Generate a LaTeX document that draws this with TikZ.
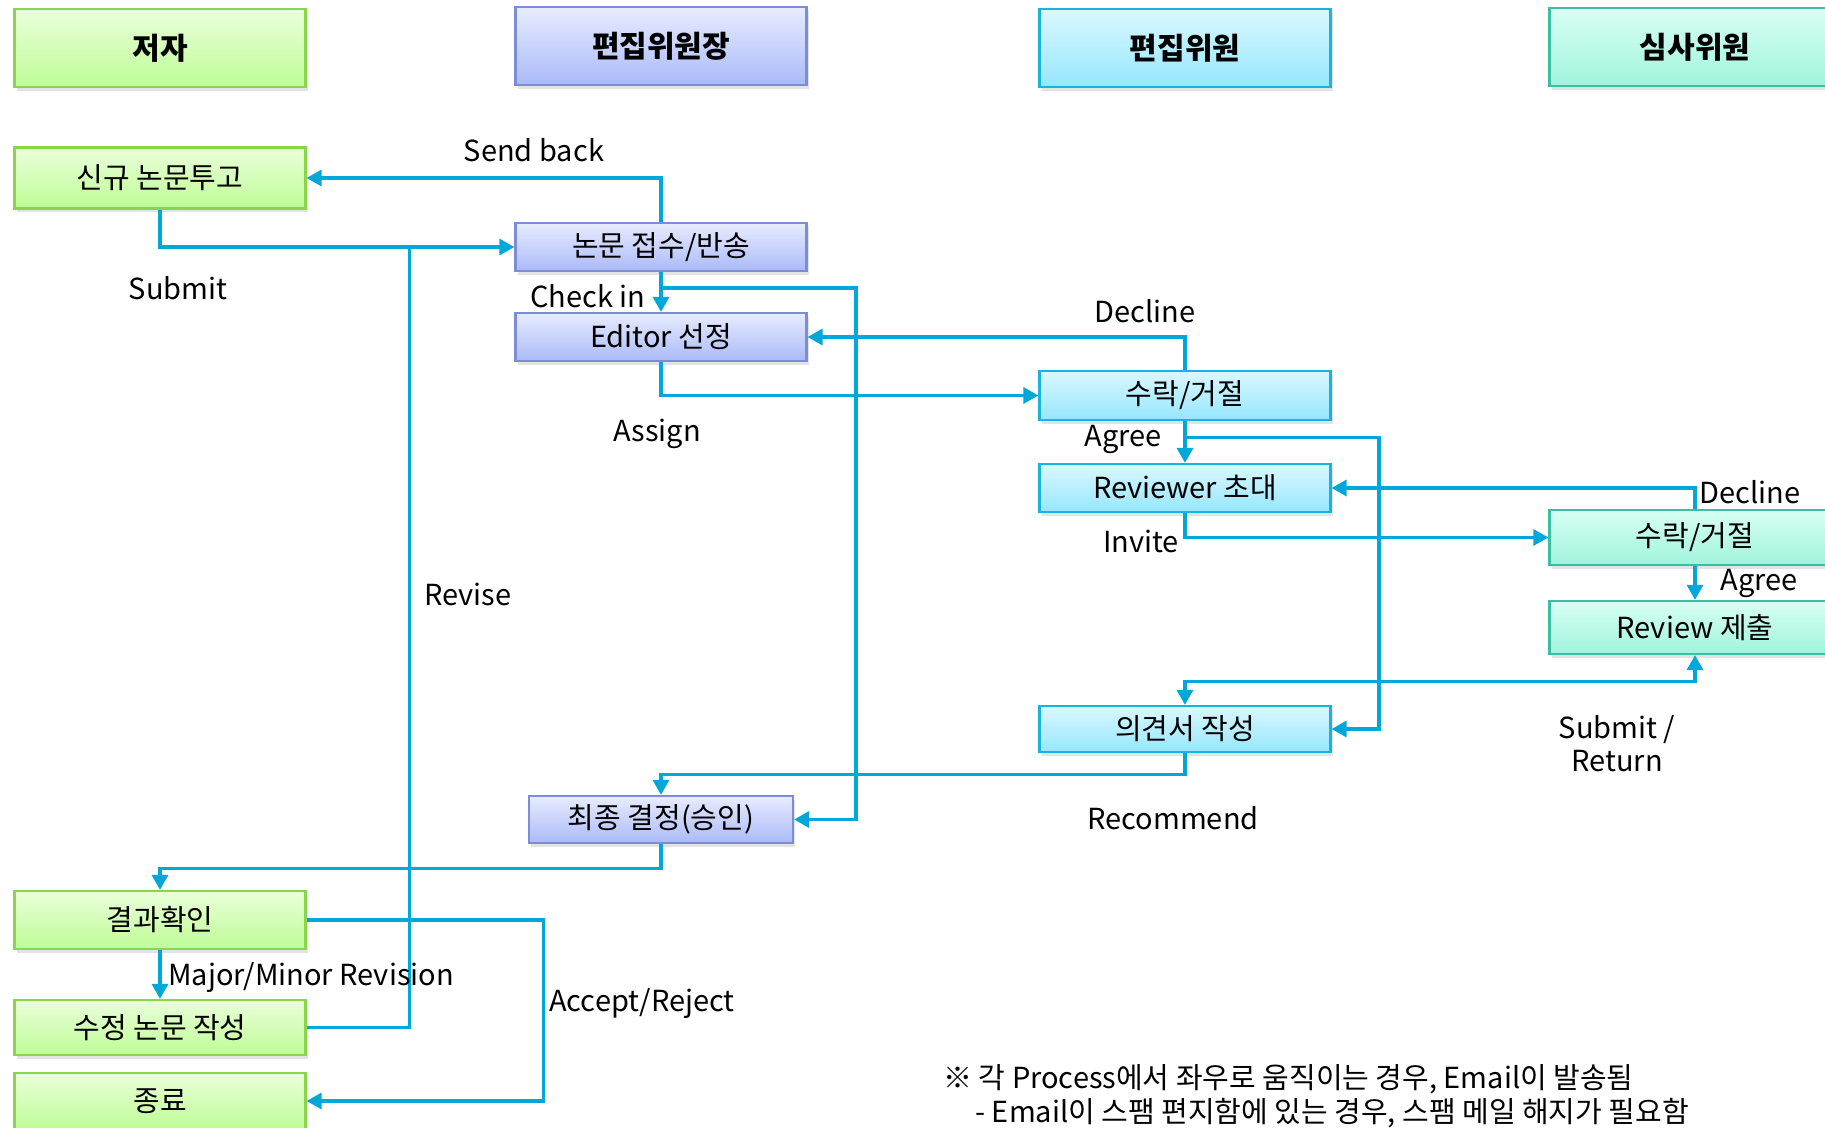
\documentclass[tikz,border=0pt]{standalone}
\usepackage{fontspec}
\setmainfont{Noto Sans CJK KR}
\usetikzlibrary{arrows.meta,shadows}

\definecolor{flowline}{RGB}{0,168,218}
\definecolor{authorline}{RGB}{138,214,74}
\definecolor{authortop}{RGB}{234,255,218}
\definecolor{authorbot}{RGB}{190,252,150}
\definecolor{chiefline}{RGB}{124,140,214}
\definecolor{chieftop}{RGB}{232,236,255}
\definecolor{chiefbot}{RGB}{170,186,248}
\definecolor{editorline}{RGB}{26,178,224}
\definecolor{editortop}{RGB}{218,248,255}
\definecolor{editorbot}{RGB}{150,230,255}
\definecolor{reviewerline}{RGB}{60,190,165}
\definecolor{reviewertop}{RGB}{216,255,244}
\definecolor{reviewerbot}{RGB}{160,244,220}

\tikzset{
  box/.style={draw, line width=1.1pt, minimum width=145.5pt, inner sep=0pt,
    font=\fontsize{14.5}{17}\selectfont,
    drop shadow={opacity=0.22, shadow xshift=1.2pt, shadow yshift=-2pt}},
  head/.style={box, minimum height=39pt, font=\fontsize{15}{18}\selectfont\bfseries},
  author/.style={draw=authorline, top color=authortop, bottom color=authorbot},
  chief/.style={draw=chiefline, top color=chieftop, bottom color=chiefbot},
  editor/.style={draw=editorline, top color=editortop, bottom color=editorbot},
  reviewer/.style={draw=reviewerline, top color=reviewertop, bottom color=reviewerbot},
  wire/.style={draw=flowline, line width=1.6pt},
  link/.style={wire, -{Triangle[length=7.5pt,width=8pt]}},
  both/.style={wire, arrows={Triangle[length=7.5pt,width=8pt]-Triangle[length=7.5pt,width=8pt]}},
  lbl/.style={inner sep=0pt, font=\fontsize{14.5}{16.5}\selectfont}
}

\begin{document}
\begin{tikzpicture}[x=0.5pt,y=-0.5pt]
\useasboundingbox (0,0) rectangle (1825,1128);

\node[head,author] (hauthor) at (160,48) {저자};
\node[head,chief] (hchief) at (661,46) {편집위원장};
\node[head,editor] (heditor) at (1185,48) {편집위원};
\node[head,reviewer] (hreviewer) at (1695,47) {심사위원};

\node[box,author,minimum height=30.5pt] (new) at (160,178) {신규 논문투고};
\node[box,chief,minimum height=24pt] (recv) at (661,247) {논문 접수/반송};
\node[box,chief,minimum height=24pt] (select) at (661,337) {Editor 선정};
\node[box,editor,minimum height=24.5pt] (edecide) at (1185,395.5) {수락/거절};
\node[box,editor,minimum height=24pt] (invite) at (1185,488) {Reviewer 초대};
\node[box,reviewer,minimum height=27.5pt] (rdecide) at (1695,537.5) {수락/거절};
\node[box,reviewer,minimum height=26.5pt] (review) at (1695,627.5) {Review 제출};
\node[box,editor,minimum height=23pt] (opinion) at (1185,729) {의견서 작성};
\node[box,chief,minimum width=132pt,minimum height=23.5pt] (final) at (661,819.5) {최종 결정(승인)};
\node[box,author,minimum height=29pt] (result) at (160,920) {결과확인};
\node[box,author,minimum height=27.5pt] (revise) at (160,1027.5) {수정 논문 작성};
\node[box,author,minimum height=28pt] (close) at (160,1101) {종료};

\draw[link] (new.south) |- (recv.west);
\draw[link] (recv.north) |- (new.east);
\draw[link] (recv.south) -- (select.north);
\draw[link] ([yshift=-8pt]recv.south) -- ++(195,0) |- (final.east);
\draw[link] (edecide.north) |- (select.east);
\draw[link] (select.south) |- (edecide.west);
\draw[link] (edecide.south) -- (invite.north);
\draw[link] ([yshift=-8pt]edecide.south) -- ++(194,0) |- (opinion.east);
\draw[link] (rdecide.north) |- (invite.east);
\draw[link] (invite.south) |- (rdecide.west);
\draw[link] (rdecide.south) -- (review.north);
\draw[both] (review.south) -- ++(0,26) -| (opinion.north);
\draw[link] (opinion.south) -- ++(0,21) -| (final.north);
\draw[link] (final.south) -- ++(0,24) -| (result.north);
\draw[link] (result.south) -- (revise.north);
\draw[wire] (revise.east) -| ([xshift=-52.5pt]recv.west);
\draw[link] (result.east) -- ++(237,0) |- (close.east);

\node[lbl] (lsubmit) at (178,288) {Submit};
\node[lbl] (lsendback) at (534,150) {Send back};
\node[lbl] (lcheckin) at (588,296) {Check in};
\node[lbl] (ldecline) at (1145,311) {Decline};
\node[lbl] (lassign) at (657,434) {Assign};
\node[lbl] (lagree) at (1123,439) {Agree};
\node[lbl] (lrdecline) at (1750,492) {Decline};
\node[lbl] (linvite) at (1141,541) {Invite};
\node[lbl] (lragree) at (1759,583) {Agree};
\node[lbl] (lrevise) at (468,594) {Revise};
\node[lbl,align=center] (lreturn) at (1617,744) {Submit /\\Return};
\node[lbl] (lrecommend) at (1173,818) {Recommend};
\node[lbl] (lrevision) at (311,977) {Major/Minor Revision};
\node[lbl] (laccept) at (642,1003) {Accept/Reject};
\node[lbl,anchor=west] (note1) at (943,1079) {※ 각 Process에서 좌우로 움직이는 경우, Email이 발송됨};
\node[lbl,anchor=west] (note2) at (975,1113) {- Email이 스팸 편지함에 있는 경우, 스팸 메일 해지가 필요함};
\end{tikzpicture}
\end{document}
